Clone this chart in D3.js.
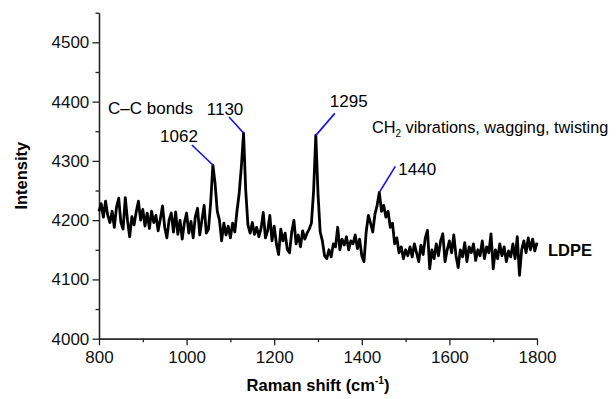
<!DOCTYPE html>
<html>
<head>
<meta charset="utf-8">
<script src="https://cdn.jsdelivr.net/npm/d3@7"></script>
<style>
  body { margin: 0; background: #fff; }
  svg { display: block; font-family: "Liberation Sans", Arial, sans-serif; }
</style>
</head>
<body>
<div id="chart"></div>
<script>
// Raman spectrum of LDPE, sampled every 5 cm-1 from 800 to 1800
const shiftStart = 800;
const shiftStep = 5;
const intensity = [
  4215, 4228, 4205, 4232, 4208, 4196, 4215, 4188, 4222, 4237, // 800-845
  4196, 4185, 4238, 4200, 4172, 4206, 4192, 4214, 4232, 4200, // 850-895
  4218, 4190, 4212, 4186, 4215, 4196, 4208, 4182, 4202, 4224, // 900-945
  4188, 4170, 4200, 4212, 4180, 4214, 4176, 4200, 4168, 4196, // 950-995
  4212, 4178, 4198, 4170, 4206, 4220, 4175, 4200, 4225, 4178, // 1000-1045
  4185, 4230, 4293, 4262, 4215, 4200, 4165, 4195, 4175, 4190, // 1050-1095
  4170, 4195, 4180, 4215, 4245, 4290, 4347, 4250, 4192, 4178, // 1100-1145
  4196, 4176, 4188, 4172, 4186, 4213, 4170, 4182, 4208, 4165, // 1150-1195
  4190, 4160, 4142, 4185, 4165, 4178, 4150, 4145, 4180, 4200, // 1200-1245
  4160, 4175, 4155, 4182, 4168, 4178, 4185, 4195, 4250, 4343, // 1250-1295
  4245, 4180, 4165, 4140, 4135, 4150, 4138, 4160, 4155, 4188, // 1300-1345
  4150, 4168, 4158, 4172, 4150, 4165, 4160, 4175, 4152, 4168, // 1350-1395
  4140, 4130, 4180, 4208, 4195, 4180, 4210, 4225, 4247, 4215, // 1400-1445
  4225, 4205, 4215, 4188, 4195, 4160, 4170, 4145, 4155, 4135, // 1450-1495
  4150, 4140, 4155, 4138, 4160, 4145, 4130, 4158, 4142, 4170, // 1500-1545
  4183, 4118, 4150, 4135, 4160, 4140, 4165, 4177, 4130, 4150, // 1550-1595
  4165, 4145, 4175, 4140, 4120, 4150, 4138, 4162, 4130, 4155, // 1600-1645
  4145, 4160, 4132, 4150, 4140, 4165, 4135, 4155, 4145, 4177, // 1650-1695
  4118, 4150, 4135, 4160, 4140, 4155, 4130, 4148, 4138, 4160, // 1700-1745
  4135, 4172, 4107, 4150, 4165, 4145, 4170, 4150, 4168, 4148, // 1750-1795
  4162                                                        // 1800
];
const shifts = intensity.map((d, i) => shiftStart + i * shiftStep);

const xMajorTicks = [800, 1000, 1200, 1400, 1600, 1800];
const xMinorTicks = [900, 1100, 1300, 1500, 1700];
const yMajorTicks = [4000, 4100, 4200, 4300, 4400, 4500];
const yMinorTicks = [4050, 4150, 4250, 4350, 4450, 4550];

const peakShifts = [1062, 1130, 1295, 1440];
const peakLabels = ["1062", "1130", "1295", "1440"];
const seriesName = "LDPE";

function plotSpectrum(containerId = "chart") {
  d3.select(`#${containerId}`).selectAll("*").remove();

  const W = 616, H = 399;
  const margin = {top: 12.7, right: 79, bottom: 60.3, left: 99};
  const width = W - margin.left - margin.right;
  const height = H - margin.top - margin.bottom;

  const svg = d3.select(`#${containerId}`)
    .append("svg")
    .attr("width", W)
    .attr("height", H);

  const g = svg.append("g")
    .attr("transform", `translate(${margin.left},${margin.top})`);

  const x = d3.scaleLinear().domain([800, 1800]).range([0, width]);
  const y = d3.scaleLinear().domain([4000, 4550]).range([height, 0]);

  const styleAxis = sel => {
    sel.select(".domain").attr("stroke", "#222").attr("stroke-width", 1.3);
    sel.selectAll(".tick line").attr("stroke", "#222").attr("stroke-width", 1.3);
    sel.selectAll("text").attr("font-family", "Liberation Sans, Arial, sans-serif")
      .attr("font-size", 17).attr("fill", "#111");
  };

  // X axis: major + minor ticks
  g.append("g")
    .attr("transform", `translate(0,${height})`)
    .call(d3.axisBottom(x).tickValues(xMinorTicks).tickSize(3.5).tickSizeOuter(0).tickFormat(""))
    .call(styleAxis);
  g.append("g")
    .attr("transform", `translate(0,${height})`)
    .call(d3.axisBottom(x).tickValues(xMajorTicks).tickSize(6.5).tickSizeOuter(0)
      .tickPadding(5.3).tickFormat(d3.format("d")))
    .call(styleAxis);

  // Y axis
  g.append("g")
    .call(d3.axisLeft(y).tickValues(yMinorTicks).tickSize(3.5).tickSizeOuter(0).tickFormat(""))
    .call(styleAxis);
  g.append("g")
    .call(d3.axisLeft(y).tickValues(yMajorTicks).tickSize(6.5).tickSizeOuter(0)
      .tickPadding(3.2).tickFormat(d3.format("d")))
    .call(styleAxis);

  // Axis titles
  svg.append("text")
    .attr("transform", `translate(27,${margin.top + height / 2}) rotate(-90)`)
    .attr("text-anchor", "middle")
    .attr("font-size", 16.5)
    .attr("font-weight", "bold")
    .text("Intensity");

  const xt = svg.append("text")
    .attr("x", margin.left + width / 2)
    .attr("y", 391)
    .attr("text-anchor", "middle")
    .attr("font-size", 16.5)
    .attr("font-weight", "bold");
  xt.append("tspan").text("Raman shift (cm");
  xt.append("tspan").attr("font-size", 10).attr("dy", -7).text("-1");
  xt.append("tspan").attr("dy", 7).text(")");

  // Spectrum line
  const line = d3.line()
    .x((d, i) => x(shifts[i]))
    .y(d => y(d));

  g.append("path")
    .datum(intensity)
    .attr("fill", "none")
    .attr("stroke", "#000")
    .attr("stroke-width", 2.8)
    .attr("stroke-linejoin", "round")
    .attr("d", line);

  // Peak annotations: leader end and label offset from peak, in px
  const layout = [
    {lx: -21, ly: -20, tx: -15, ty: -23, anchor: "end"},
    {lx: -14.5, ly: -16, tx: -18.5, ty: -18, anchor: "middle"},
    {lx: 19, ly: -22, tx: 14, ty: -28, anchor: "start"},
    {lx: 16, ly: -26, tx: 19, ty: -17, anchor: "start"}
  ];
  const nearest = s => d3.minIndex(shifts, v => Math.abs(v - s));

  peakShifts.forEach((s, k) => {
    const i = nearest(s);
    const px = x(shifts[i]);
    const py = y(intensity[i]);
    const o = layout[k];
    g.append("line")
      .attr("x1", px).attr("y1", py)
      .attr("x2", px + o.lx).attr("y2", py + o.ly)
      .attr("stroke", "#1010ee")
      .attr("stroke-width", 1.6);
    g.append("text")
      .attr("x", px + o.tx).attr("y", py + o.ty)
      .attr("text-anchor", o.anchor)
      .attr("font-size", 17)
      .text(peakLabels[k]);
  });

  // Group labels
  svg.append("text")
    .attr("x", 108).attr("y", 114)
    .attr("font-size", 17)
    .text("C\u2013C bonds");

  const ch = svg.append("text")
    .attr("x", 372).attr("y", 133)
    .attr("font-size", 16.3);
  ch.append("tspan").text("CH");
  ch.append("tspan").attr("font-size", 10).attr("dy", 4).text("2");
  ch.append("tspan").attr("dy", -4).text(" vibrations, wagging, twisting");

  // Series label at the end of the line
  svg.append("text")
    .attr("x", 548).attr("y", 256)
    .attr("font-size", 16.5)
    .attr("font-weight", "bold")
    .text(seriesName);
}

plotSpectrum();
</script>
</body>
</html>
